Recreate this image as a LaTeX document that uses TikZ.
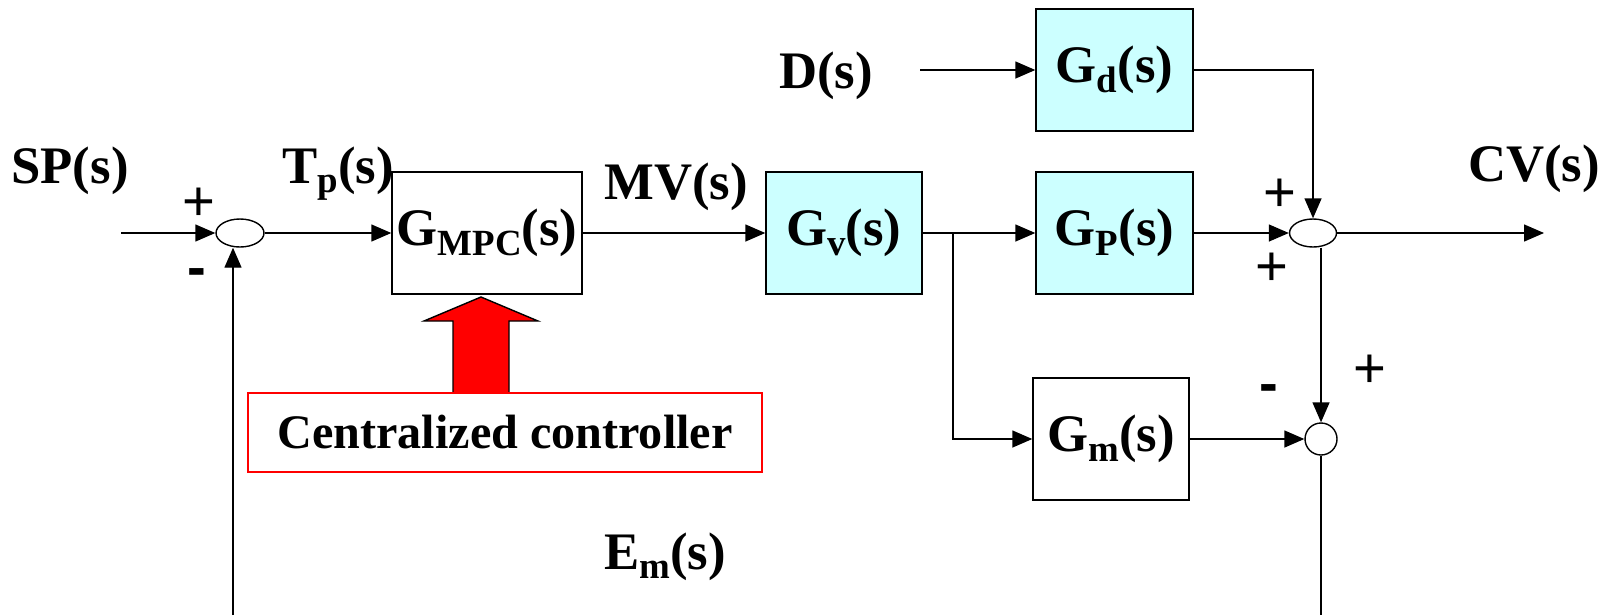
\documentclass[tikz,border=0pt]{standalone}
\usepackage{fontspec}
\setmainfont{Liberation Serif}
\newfontfamily\signfont{Liberation Sans}
\usepackage{graphicx}
\usetikzlibrary{arrows.meta,positioning,shapes.geometric}
\definecolor{plantfill}{HTML}{CCFFFF}
\definecolor{ctrlred}{HTML}{FF0000}
\newcommand{\lo}[1]{\raisebox{-2.8pt}{\fontsize{10.5}{12}\selectfont #1}}
\tikzset{
  >={Triangle[length=2mm,width=1.7mm]},
  line width=0.6pt,
}

\begin{document}
\begin{tikzpicture}[
  ->,
  every node/.style={font=\fontsize{15}{18}\selectfont\bfseries},
  blk/.style={draw,minimum width=1.9cm,minimum height=1.22cm,inner sep=0pt},
  plant/.style={blk,fill=plantfill,minimum width=1.57cm},
  sumj/.style={draw,ellipse,minimum width=0.48cm,minimum height=0.28cm,inner sep=0pt},
  sumc/.style={draw,circle,minimum size=0.32cm,inner sep=0pt},
  sig/.style={inner sep=0pt,anchor=base},
  sgn/.style={inner sep=0pt,font=\fontsize{16}{18}\signfont},
  neg/.style={inner sep=0pt,font=\fontsize{16}{18}\signfont\bfseries}
]
\useasboundingbox (0,0) rectangle (16.09,-6.15);

% summing junctions
\node[sumj] (s1) at (2.40,-2.33) {};
\node[sumj,minimum width=0.47cm] (s2) at (13.13,-2.33) {};
\node[sumc] (s3) at (13.21,-4.39) {};

% blocks
\node[blk] (gmpc) at (4.87,-2.33) {G\lo{MPC}(s)};
\node[plant,minimum width=1.56cm] (gv) at (8.44,-2.33) {G\lo{v}(s)};
\node[plant] (gp) at (11.145,-2.33) {G\lo{P}(s)};
\node[plant] (gd) at (11.145,-0.70) {G\lo{d}(s)};
\node[blk,minimum width=1.56cm] (gm) at (11.11,-4.39) {G\lo{m}(s)};

% fat arrow and controller box
\draw[-,fill=ctrlred] (4.53,-3.93) -- (4.53,-3.21) -- (4.24,-3.21) -- (4.81,-2.97)
  -- (5.38,-3.21) -- (5.09,-3.21) -- (5.09,-3.93);
\node[draw=ctrlred,fill=white,minimum width=5.14cm,minimum height=0.79cm,
  font=\fontsize{13.7}{16}\selectfont\bfseries] (cc) at (5.05,-4.325) {Centralized controller};

% signal labels
\node[sig] (spl) at (0.70,-1.83) {SP(s)};
\node[sig] (tpl) at (3.38,-1.83) {T\lo{p}(s)};
\node[sig] (mvl) at (6.76,-1.99) {MV(s)};
\node[sig] (dl) at (8.26,-0.88) {D(s)};
\node[sig] (cvl) at (15.34,-1.81) {CV(s)};
\node[sig] (eml) at (6.65,-5.69) {E\lo{m}(s)};

% signs
\node[sgn] (p1) at (1.99,-2.04) {+};
\node[neg] (m1) at (1.97,-2.78) {-};
\node[sgn] (p2) at (12.80,-1.95) {+};
\node[sgn] (p3) at (12.72,-2.69) {+};
\node[neg] (m3) at (12.69,-3.94) {-};
\node[sgn] (p4) at (13.70,-3.71) {+};

% free ends
\coordinate (spin) at (1.21,-2.33);
\coordinate (br) at (9.53,-2.33);
\coordinate (din) at (9.20,-0.70);
\coordinate (cvout) at (15.44,-2.33);
\coordinate (fb1) at (2.33,-6.15);
\coordinate (fb2) at (13.21,-6.15);

\draw (spin) -- (s1);
\draw (s1) -- (gmpc);
\draw (gmpc) -- (gv);
\draw[-] (gv) -- (br);
\draw (br) -- (gp);
\draw (br) |- (gm);
\draw (din) -- (gd);
\draw (gd) -| (s2);
\draw (gp) -- (s2);
\draw (s2) -- (cvout);
\draw (s2.south -| s3) -- (s3);
\draw (gm) -- (s3);
\draw[-] (s3) -- (fb2);
\draw (fb1) -- (fb1 |- s1.south);

\end{tikzpicture}
\end{document}
